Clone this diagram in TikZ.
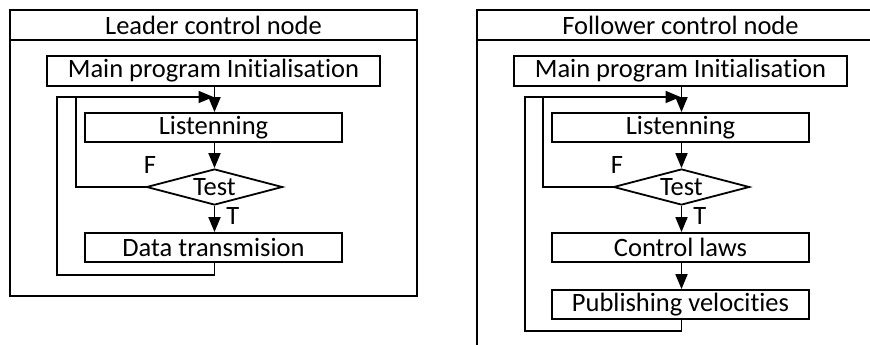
\documentclass[tikz,border=0pt]{standalone}
\usepackage{fontspec}
\setmainfont{Carlito}[Ligatures=NoCommon]
\usetikzlibrary{arrows.meta,positioning}
\usetikzlibrary{shapes.geometric}

\begin{document}
\begin{tikzpicture}[x=1pt,y=-1pt,line width=1.8pt]%
    \useasboundingbox (0,0) rectangle (870,345);%
    \tikzset{every node/.style={font=\fontsize{26.5}{30}\selectfont,inner sep=0pt},
             blk/.style={draw,rectangle,minimum width=257pt,minimum height=29pt},
             tst/.style={draw,diamond,minimum width=136pt,minimum height=36pt,aspect=3.8},
             arr/.style={-{Triangle[length=15pt,width=12pt]}}}%
    % leader
    \begin{scope}
        \node[draw,minimum width=407pt,minimum height=286pt] (lframe) at (213.5,153)  {}; %%
        \node[draw,minimum width=407pt,minimum height=30pt] (ltitle) at (213.5,25)  {Leader control node}; %%
        \node[draw,minimum width=333pt,minimum height=30pt] (lmain) at (213.5,71)  {Main program Initialisation}; %%
        \node[blk] (llisten) at (213.5,127.5)  {Listenning}; %%
        \node[tst] (ltest) at (214.5,187)  {Test}; %%
        \node[blk] (ldata) at (213.5,247.5)  {Data transmision}; %%
        \coordinate (ljoin) at (214.5,97); %%
    \end{scope}
        \draw[arr] (lmain.south -| ljoin) -- (llisten.north -| ljoin); %%
        \draw[arr] (llisten.south -| ljoin) -- (ltest); %%
        \draw[arr] (ltest) -- node[right=11pt,pos=.4] (lt) {T} (ldata.north -| ljoin); %%
        \draw (ltest.west) -| ([xshift=-8pt]llisten.west |- ljoin); %%
        \node (lf) at (150,165) {F}; %%
        \draw[arr] (ldata.south -| ljoin) -- ++(0,12) -| ([xshift=-27pt]llisten.west |- ljoin) -- ([xshift=-1pt]ljoin); %%
    % follower
    \begin{scope}
        \node[draw,minimum width=407pt,minimum height=360pt] (rframe) at (680.5,190)  {}; %%
        \node[draw,minimum width=407pt,minimum height=30pt] (rtitle) at (680.5,25)  {Follower control node}; %%
        \node[draw,minimum width=333pt,minimum height=30pt] (rmain) at (680.5,71)  {Main program Initialisation}; %%
        \node[blk] (rlisten) at (680.5,127.5)  {Listenning}; %%
        \node[tst] (rtest) at (681.5,187)  {Test}; %%
        \node[blk] (rlaws) at (680.5,247.5)  {Control laws}; %%
        \node[blk] (rpub) at (680.5,304.5)  {Publishing velocities}; %%
        \coordinate (rjoin) at (681.5,97); %%
    \end{scope}
        \draw[arr] (rmain.south -| rjoin) -- (rlisten.north -| rjoin); %%
        \draw[arr] (rlisten.south -| rjoin) -- (rtest); %%
        \draw[arr] (rtest) -- node[right=11pt,pos=.4] (rt) {T} (rlaws.north -| rjoin); %%
        \draw[arr] (rlaws.south -| rjoin) -- (rpub.north -| rjoin); %%
        \draw (rtest.west) -| ([xshift=-8pt]rlisten.west |- rjoin); %%
        \node (rf) at (617,165) {F}; %%
        \draw[arr] (rpub.south -| rjoin) -- ++(0,11) -| ([xshift=-26pt]rlisten.west |- rjoin) -- ([xshift=-1pt]rjoin); %%
\end{tikzpicture}
\end{document}
